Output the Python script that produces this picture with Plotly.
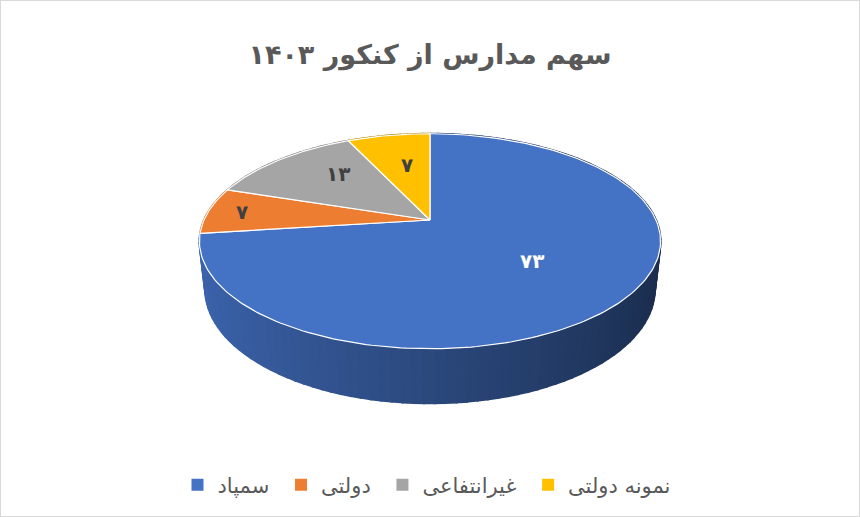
import math
import plotly.graph_objects as go

# data
categories = ["سمپاد", "دولتی", "غیرانتفاعی", "نمونه دولتی"]
values = [73, 7, 13, 7]
value_labels = ["۷۳", "۷", "۱۳", "۷"]
colors = ["#4472C4", "#ED7D31", "#A5A5A5", "#FFC000"]
title_text = "سهم مدارس از کنکور ۱۴۰۳"

W, H = 860, 517
FONT = "DejaVu Sans"

# simple perspective camera for the 3d pie
CX, CY = 430, 220        # screen position of the pie centre
FOC = 1017
DIST = 4.5
ELEV = math.radians(27.2)
DEPTH = 0.24             # thickness of the pie


def project(r, theta, w):
    # theta in radians, clockwise from 12 o'clock; w = height (0 top, -DEPTH bottom)
    u = r * math.sin(theta)
    v = r * math.cos(theta)
    s, c = math.sin(ELEV), math.cos(ELEV)
    d = DIST + v * c - w * s
    return CX + FOC * u / d, CY - FOC * (v * s + w * c) / d


def shade(hex_color, f):
    h = hex_color.lstrip("#")
    rgb = [int(h[i:i + 2], 16) for i in (0, 2, 4)]
    return "rgb(%d,%d,%d)" % tuple(min(255, int(x * f)) for x in rgb)


total = float(sum(values))
starts = []
acc = 0.0
for v in values:
    starts.append(acc / total * 2 * math.pi)
    acc += v

fig = go.Figure()

# side wall, drawn as thin strips (far ones first) so it can carry a gradient
strips = []
for i, v in enumerate(values):
    a0 = starts[i]
    a1 = a0 + v / total * 2 * math.pi
    n = max(2, int(v * 1.6))
    for k in range(n):
        t0 = a0 + (a1 - a0) * k / n
        t1 = a0 + (a1 - a0) * (k + 1) / n
        strips.append((math.cos((t0 + t1) / 2), i, t0, t1))
strips.sort(key=lambda s: -s[0])

for _, i, t0, t1 in strips:
    pts = [project(1, t0, 0), project(1, t1, 0), project(1, t1, -DEPTH), project(1, t0, -DEPTH)]
    xs = [p[0] for p in pts] + [pts[0][0]]
    ys = [p[1] for p in pts] + [pts[0][1]]
    um = math.sin((t0 + t1) / 2)
    col = shade(colors[i], 0.64 - 0.25 * um)
    fig.add_trace(go.Scatter(x=xs, y=ys, mode="lines", fill="toself",
                             fillcolor=col, line=dict(color=col, width=2),
                             hoverinfo="skip", showlegend=False))

# top faces
apex = project(0, 0, 0)
for i, v in enumerate(values):
    a0 = starts[i]
    a1 = a0 + v / total * 2 * math.pi
    n = max(4, int(v * 3))
    arc = [project(1, a0 + (a1 - a0) * k / n, 0) for k in range(n + 1)]
    xs = [apex[0]] + [p[0] for p in arc] + [apex[0]]
    ys = [apex[1]] + [p[1] for p in arc] + [apex[1]]
    fig.add_trace(go.Scatter(x=xs, y=ys, mode="lines", fill="toself",
                             fillcolor=colors[i], line=dict(color="white", width=1.2),
                             hoverinfo="skip", showlegend=False))

# data labels
label_k = [0.56, 0.85, 0.69, 0.65]
label_colors = ["white", "#404040", "#404040", "#404040"]


def screen_angle(t):
    px, py = project(1, t, 0)
    return math.atan2(-(py - apex[1]), px - apex[0])


for i, v in enumerate(values):
    a0 = starts[i]
    a1 = a0 + v / total * 2 * math.pi
    if v / total > 0.5:
        lx, ly = project(label_k[i], (a0 + a1) / 2, 0)
    else:
        # middle of the slice as seen on screen
        p0, p1 = screen_angle(a0), screen_angle(a1)
        if p1 - p0 > math.pi:
            p1 -= 2 * math.pi
        if p0 - p1 > math.pi:
            p1 += 2 * math.pi
        target = (p0 + p1) / 2
        best = min((a0 + (a1 - a0) * k / 200 for k in range(201)),
                   key=lambda t: abs(math.atan2(math.sin(screen_angle(t) - target),
                                                math.cos(screen_angle(t) - target))))
        rx, ry = project(1, best, 0)
        lx = apex[0] + label_k[i] * (rx - apex[0])
        ly = apex[1] + label_k[i] * (ry - apex[1])
    fig.add_annotation(x=lx, y=ly, text="<b>%s</b>" % value_labels[i], showarrow=False,
                       font=dict(family=FONT, size=20, color=label_colors[i]))

# legend entries
pad = "\u00a0"
for i, name in enumerate(categories):
    fig.add_trace(go.Scatter(x=[None], y=[None], mode="markers", name=name + pad,
                             marker=dict(symbol="square", size=11, color=colors[i])))

fig.update_xaxes(range=[0, W], visible=False, fixedrange=True)
fig.update_yaxes(range=[H, 0], visible=False, fixedrange=True)

fig.update_layout(
    width=W, height=H,
    margin=dict(l=0, r=0, t=0, b=0),
    paper_bgcolor="white", plot_bgcolor="white",
    title=dict(text="<b>%s</b>" % title_text, x=0.5, xanchor="center",
               y=1 - 55 / H, yanchor="middle",
               font=dict(family=FONT, size=27, color="#595959")),
    legend=dict(orientation="h", x=0.5, xanchor="center", y=1 - 485 / H, yanchor="middle",
                font=dict(family=FONT, size=21, color="#595959"),
                itemsizing="constant", traceorder="normal"),
    shapes=[dict(type="rect", xref="paper", yref="paper", x0=0, y0=0, x1=1, y1=1,
                 line=dict(color="#D9D9D9", width=2))],
)

fig.write_html("out.html", config={"displayModeBar": False},
               post_script="document.body.style.margin='0';")
